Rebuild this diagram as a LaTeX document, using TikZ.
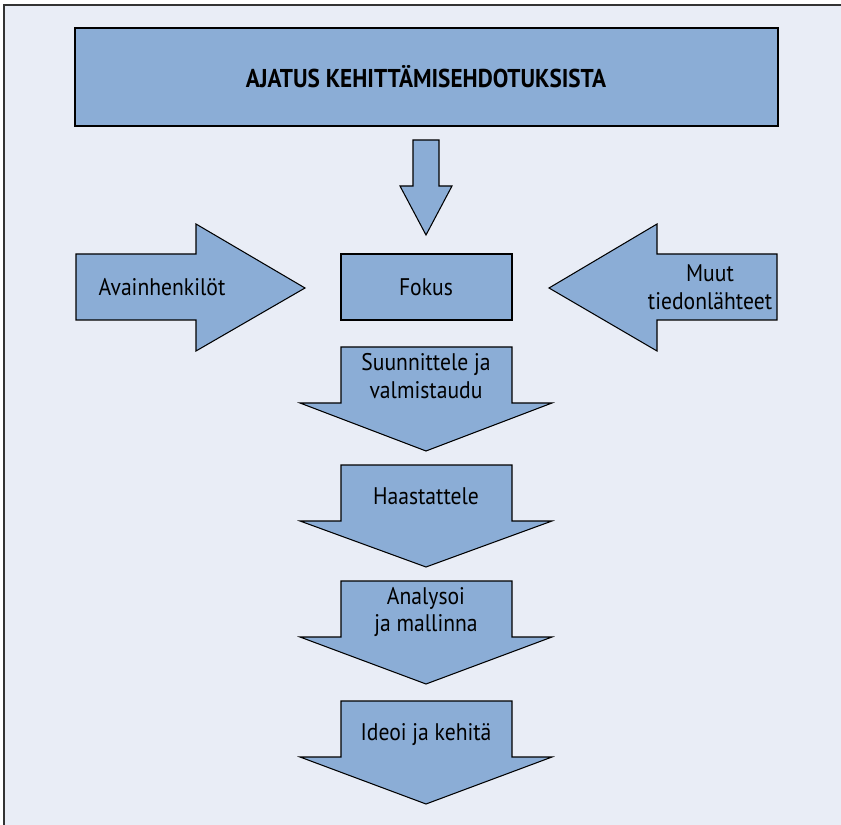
\documentclass[tikz,border=0pt]{standalone}
\usepackage{fontspec}
\setmainfont{PT Sans}[FakeStretch=0.9]
\usepackage{xcolor}
\usepackage{tikz}
\definecolor{pohja}{HTML}{E9EDF6}
\definecolor{sininen}{HTML}{8BADD6}
\tikzset{
  blok/.style={draw=black, fill=sininen, line width=0.9pt, line join=miter},
  teksti/.style={font=\fontsize{20.5}{23.5}\selectfont, align=center, inner sep=0pt}
}

\begin{document}
\begin{tikzpicture}[x=0.03cm, y=-0.03cm]
\useasboundingbox (0,0) rectangle (841,825);
\fill[white] (0,0) rectangle (841,825);
\fill[pohja] (4,5) rectangle (841,825);
\draw[line width=1pt, black!80] (841,5) -- (4,5) -- (4,825);
% otsikko
\draw[blok] (75,28) rectangle (778,126);
\node[teksti, font=\fontsize{22}{25}\selectfont\bfseries] (otsikko) at (426,77) {AJATUS KEHITTÄMISEHDOTUKSISTA};
\draw[blok] (413,140) -- (439,140) -- (439,186) -- (452,186) -- (426,235) -- (400,186) -- (413,186) -- cycle;
% fokus ja sivunuolet
\draw[blok] (341,254) rectangle (512,320);
\node[teksti] (fokus) at (426,287) {Fokus};
\draw[blok] (76,254) -- (196,254) -- (196,224) -- (305,288) -- (196,351) -- (196,320) -- (76,320) -- cycle;
\node[teksti] (avain) at (162,287) {Avainhenkilöt};
\draw[blok] (777,254) -- (657,254) -- (657,224) -- (549,288) -- (657,351) -- (657,320) -- (777,320) -- cycle;
\node[teksti] (muut) at (710,287) {Muut\\tiedonlähteet};
% vaiheet
\draw[blok] (341,347) -- (512,347) -- (512,403) -- (552,403) -- (426,451) -- (300,403) -- (341,403) -- cycle;
\node[teksti] (suunnittele) at (426,376) {Suunnittele ja\\valmistaudu};
\draw[blok] (341,465) -- (512,465) -- (512,521) -- (552,521) -- (426,567) -- (300,521) -- (341,521) -- cycle;
\node[teksti] (haastattele) at (426,496) {Haastattele};
\draw[blok] (341,581) -- (512,581) -- (512,637) -- (552,637) -- (426,684) -- (300,637) -- (341,637) -- cycle;
\node[teksti] (analysoi) at (426,612) {Analysoi\\ja mallinna};
\draw[blok] (341,701) -- (512,701) -- (512,757) -- (552,757) -- (426,804) -- (300,757) -- (341,757) -- cycle;
\node[teksti] (ideoi) at (426,735) {Ideoi ja kehitä};
\end{tikzpicture}
\end{document}
